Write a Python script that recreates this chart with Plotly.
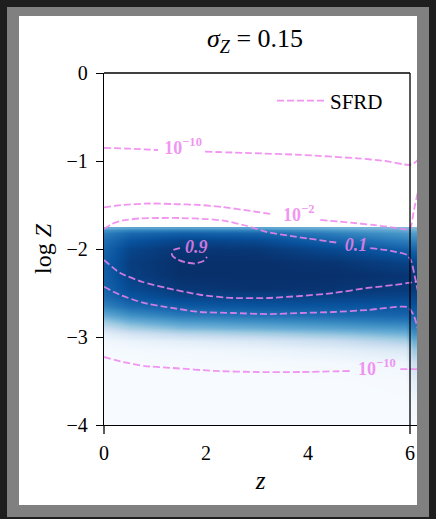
import plotly.graph_objects as go

# ---------------- data ----------------
# metallicity distribution map (colour intensity 0..1), columns = redshift, rows = log Z
z_cols = [0.0, 0.5, 1.5, 3.0, 4.5, 5.9, 6.05, 6.15]
logZ_rows = [-1.76, -1.78, -1.82, -1.90, -2.00, -2.15, -2.30, -2.45, -2.55, -2.65,
             -2.75, -2.82, -2.90, -2.97, -3.05, -3.15, -3.30, -3.50, -3.75, -4.00]
density = [
    [0.50, 0.55, 0.56, 0.55, 0.50, 0.45, 0.45, 0.45],
    [0.62, 0.68, 0.70, 0.68, 0.60, 0.52, 0.50, 0.50],
    [0.70, 0.78, 0.82, 0.80, 0.70, 0.60, 0.58, 0.58],
    [0.76, 0.86, 0.92, 0.90, 0.80, 0.70, 0.68, 0.68],
    [0.80, 0.92, 0.98, 0.97, 0.90, 0.82, 0.80, 0.80],
    [0.82, 0.95, 1.00, 1.00, 0.98, 0.93, 0.92, 0.92],
    [0.82, 0.94, 1.00, 1.00, 1.00, 0.98, 0.97, 0.97],
    [0.80, 0.90, 0.97, 0.99, 0.98, 0.96, 0.96, 0.96],
    [0.77, 0.86, 0.92, 0.93, 0.93, 0.92, 0.92, 0.92],
    [0.68, 0.78, 0.84, 0.86, 0.86, 0.86, 0.87, 0.87],
    [0.52, 0.63, 0.72, 0.75, 0.78, 0.80, 0.82, 0.82],
    [0.38, 0.50, 0.60, 0.64, 0.68, 0.72, 0.76, 0.76],
    [0.22, 0.34, 0.45, 0.50, 0.55, 0.60, 0.70, 0.70],
    [0.09, 0.17, 0.27, 0.33, 0.40, 0.48, 0.62, 0.62],
    [0.03, 0.06, 0.10, 0.15, 0.22, 0.33, 0.50, 0.50],
    [0.01, 0.02, 0.03, 0.05, 0.09, 0.15, 0.38, 0.38],
    [0.00, 0.00, 0.01, 0.01, 0.02, 0.04, 0.22, 0.22],
    [0.00, 0.00, 0.00, 0.00, 0.00, 0.01, 0.10, 0.10],
    [0.00, 0.00, 0.00, 0.00, 0.00, 0.00, 0.03, 0.03],
    [0.00, 0.00, 0.00, 0.00, 0.00, 0.00, 0.00, 0.00],
]

# SFRD contour lines (None = gap for inline label)
sfrd_a_z = [0.0, 0.5, 1.06, None, 1.98, 2.87, 3.85, 4.97, 5.52, 5.97, 6.07, 6.15]
sfrd_a_logZ = [-0.85, -0.86, -0.875, None, -0.894, -0.91, -0.93, -0.97, -1.0, -1.045, -1.03, -0.99]

sfrd_b_z = [0.0, 0.37, 0.9, 1.35, 1.88, 2.33, 2.87, 3.26, None, 4.24, 4.83, 5.28, 5.72, 5.95, 6.01, 6.07, 6.15]
sfrd_b_logZ = [-1.526, -1.50, -1.483, -1.489, -1.50, -1.523, -1.568, -1.60, None, -1.67, -1.70, -1.727, -1.76, -1.78, -1.76, -1.58, -1.36]

sfrd_c_z = [0.0, 0.15, 0.37, 0.70, 1.04, 1.49, 2.02, 2.37, 2.77, 3.20, 3.65, 3.99, 4.60, None, 5.22, 5.62, 5.95, 6.03, 6.09, 6.15]
sfrd_c_logZ = [-1.773, -1.716, -1.676, -1.653, -1.648, -1.648, -1.66, -1.68, -1.733, -1.807, -1.852, -1.88, -1.93, None, -1.99, -2.02, -2.07, -2.15, -2.3, -2.47]

sfrd_d_z = [0.0, 0.31, 0.76, 1.23, 1.88, 2.53, 3.20, 3.85, 4.50, 5.17, 5.82, 5.95, 6.15]
sfrd_d_logZ = [-2.125, -2.27, -2.375, -2.443, -2.52, -2.557, -2.557, -2.534, -2.50, -2.443, -2.40, -2.386, -2.37]

sfrd_e_z = [0.0, 0.31, 0.76, 1.23, 1.88, 2.53, 3.20, 3.85, 4.50, 5.17, 5.95, 6.07, 6.15]
sfrd_e_logZ = [-2.43, -2.52, -2.61, -2.66, -2.716, -2.727, -2.74, -2.727, -2.716, -2.693, -2.66, -2.75, -2.9]

sfrd_f_z = [0.0, 0.37, 0.80, 1.35, 2.18, 3.0, 3.85, 4.84, None, 5.81, 5.95, 6.15]
sfrd_f_logZ = [-3.227, -3.284, -3.33, -3.352, -3.386, -3.398, -3.398, -3.386, None, -3.364, -3.364, -3.364]

sfrd_g_z = [1.49, 1.37, 1.33, 1.41, 1.59, 1.78, 1.94, 2.02]
sfrd_g_logZ = [-1.99, -2.01, -2.06, -2.11, -2.15, -2.165, -2.14, -2.09]

label_z = [1.55, 3.82, 4.94, 1.81, 5.35]
label_logZ = [-0.864, -1.625, -1.966, -1.99, -3.375]
label_text = ["<b>10<sup>−10</sup></b>", "<b>10<sup>−2</sup></b>", "<b><i>0.1</i></b>",
              "<b><i>0.9</i></b>", "<b>10<sup>−10</sup></b>"]

x_tick_vals = [0, 2, 4, 6]
y_tick_vals = [0, -1, -2, -3, -4]
y_tick_text = ["0", "−1", "−2", "−3", "−4"]

# ---------------- style ----------------
FONT = "Liberation Serif"
VIOLET = "rgba(238,130,238,0.85)"
W, H = 436, 519
L, R, T, B = 104, 417, 73, 425  # plot area in pixels


def px(xp):
    return (xp - L) / (R - L)


def py(yp):
    return (B - yp) / (B - T)


fig = go.Figure()

fig.add_trace(go.Heatmap(
    x=z_cols, y=logZ_rows, z=density,
    colorscale="Blues", zmin=0, zmax=1, zsmooth="best",
    showscale=False, hoverinfo="skip",
))

lines = [
    (sfrd_a_z, sfrd_a_logZ), (sfrd_b_z, sfrd_b_logZ), (sfrd_c_z, sfrd_c_logZ),
    (sfrd_d_z, sfrd_d_logZ), (sfrd_e_z, sfrd_e_logZ), (sfrd_f_z, sfrd_f_logZ),
    (sfrd_g_z, sfrd_g_logZ),
]
for i, (xs, ys) in enumerate(lines):
    fig.add_trace(go.Scatter(
        x=xs, y=ys, mode="lines", name="SFRD", legendgroup="sfrd",
        showlegend=(i == 0), connectgaps=False,
        line=dict(color=VIOLET, width=1.8, dash="7px,3px", shape="spline", smoothing=0.6),
        hoverinfo="skip",
    ))

fig.add_trace(go.Scatter(
    x=label_z, y=label_logZ, mode="text", text=label_text, showlegend=False,
    textfont=dict(family=FONT, size=18, color=VIOLET), hoverinfo="skip",
))

shapes = [
    # grey frame and white figure area
    dict(type="rect", xref="paper", yref="paper", x0=px(7), x1=px(429), y0=py(517), y1=py(7),
         fillcolor="#808080", line=dict(width=0), layer="below"),
    dict(type="rect", xref="paper", yref="paper", x0=px(19), x1=px(417), y0=py(505), y1=py(16),
         fillcolor="white", line=dict(width=0), layer="below"),
    # vertical line at z = 6 and top frame line
    dict(type="line", xref="x", yref="paper", x0=6, x1=6, y0=py(434), y1=1,
         line=dict(color="black", width=1.3)),
    dict(type="line", xref="x", yref="paper", x0=0, x1=6, y0=1, y1=1,
         line=dict(color="black", width=1.3)),
    dict(type="line", xref="paper", yref="paper", x0=0, x1=0, y0=py(434), y1=0,
         line=dict(color="black", width=1.3)),
]

fig.update_layout(
    width=W, height=H,
    margin=dict(l=L, r=W - R, t=T, b=H - B),
    paper_bgcolor="#1e1e1e", plot_bgcolor="white",
    font=dict(family=FONT, color="black", size=20),
    shapes=shapes,
    title=dict(text="<i>σ</i><sub><i>Z</i></sub> = 0.15", x=px(255), xref="paper", xanchor="center",
               y=1 - 38 / H, yref="container", yanchor="middle",
               font=dict(family=FONT, size=26, color="black")),
    legend=dict(x=px(272), y=py(101), xanchor="left", yanchor="middle", itemwidth=48,
                bgcolor="rgba(0,0,0,0)", borderwidth=0,
                font=dict(family=FONT, size=21, color="black")),
    showlegend=True,
)

fig.update_xaxes(range=[0, 6.137], tickvals=x_tick_vals, ticks="", showgrid=False,
                 zeroline=False, showline=True, linecolor="black", linewidth=1.3,
                 ticklabelstandoff=10, tickfont=dict(family=FONT, size=20),
                 title=dict(text="<i>z</i>", font=dict(family=FONT, size=25), standoff=8))
fig.update_yaxes(range=[-4, 0], tickvals=y_tick_vals, ticktext=y_tick_text,
                 ticks="outside", ticklen=7, tickwidth=1.3, tickcolor="black",
                 showgrid=False, zeroline=False, showline=True, linecolor="black", linewidth=1.3,
                 ticklabelstandoff=4, tickfont=dict(family=FONT, size=20),
                 title=dict(text="log <i>Z</i>", font=dict(family=FONT, size=24), standoff=8))

fig.write_html(
    "out.html",
    config={"displayModeBar": False},
    post_script="document.body.style.margin='0';document.body.style.background='#1e1e1e';"
                "document.body.style.overflow='hidden';",
)
